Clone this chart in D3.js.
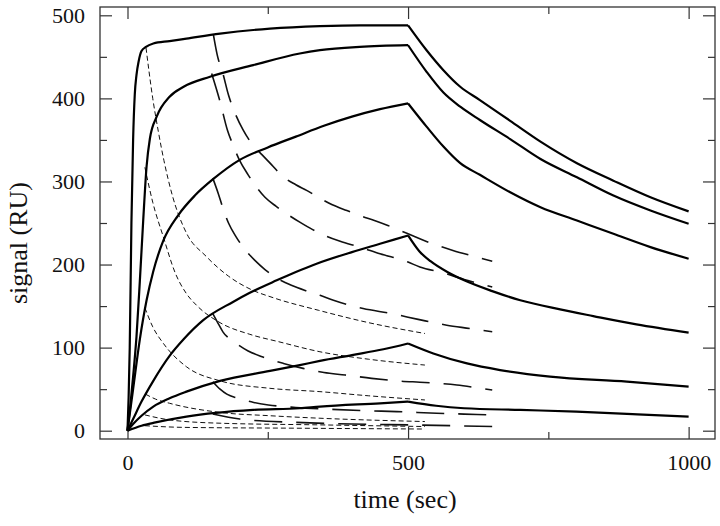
<!DOCTYPE html>
<html>
<head>
<meta charset="utf-8">
<script src="https://cdn.jsdelivr.net/npm/d3@7"></script>
<style>
body { margin: 0; background: #fff; }
svg text { font-family: "Liberation Serif", "Times New Roman", serif; fill: #111; }
</style>
</head>
<body>
<div id="chart"></div>
<script>
// solid sensorgrams: association (0-500 s) and dissociation (500-1000 s), [time, RU]
const solid1Assoc = [[0,0],[2,40],[4,100],[7,250],[10,350],[13,405],[16,428],[20,445],[25,457],[33,462],[46,466],[75,469],[105,472],[165,478],[254,484],[343,487],[414,488],[500,488]];
const solid1Dissoc = [[500,488],[533,458],[563,434],[593,414],[628,398],[682,373],[736,348],[801,322],[866,301],[932,281],[1000,264]];
const solid2Assoc = [[0,0],[5,30],[10,65],[16,113],[22,180],[28,253],[34,318],[40,352],[52,378],[75,402],[100,414],[147,426],[224,440],[307,454],[343,458],[414,462],[500,464]];
const solid2Dissoc = [[500,464],[533,432],[563,407],[593,390],[628,374],[682,351],[736,327],[801,305],[866,283],[932,265],[1000,249]];
const solid3Assoc = [[0,0],[10,50],[22,110],[34,157],[46,192],[64,229],[90,259],[120,283],[153,303],[200,326],[250,341],[300,354],[350,367],[400,378],[450,387],[500,394]];
const solid3Dissoc = [[500,394],[533,366],[563,342],[593,322],[628,308],[682,287],[736,269],[801,253],[866,237],[932,221],[1000,207]];
const solid4Assoc = [[0,0],[10,14],[25,35],[46,60],[75,90],[100,110],[135,133],[188,155],[218,166],[266,181],[300,191],[337,201],[400,215],[450,225],[500,235]];
const solid4Dissoc = [[500,235],[520,216],[540,204],[570,191],[600,181],[650,168],[700,157],[771,146],[830,138],[907,128],[1000,118]];
const solid5Assoc = [[0,0],[10,8],[25,18],[46,29],[75,39],[105,47],[165,60],[254,72],[307,79],[343,84],[400,91],[456,98],[500,105]];
const solid5Dissoc = [[500,105],[545,93],[605,81],[664,73],[753,65],[890,59],[1000,53]];
const solid6Assoc = [[0,0],[25,6],[50,10],[105,17],[224,25],[307,27],[343,29],[450,33],[500,35]];
const solid6Dissoc = [[500,35],[550,30],[600,27],[700,25],[800,23],[900,20],[1000,17]];

// short-dashed decays starting near t = 30 s
const shortDash1 = [[33,461],[45,400],[55,360],[65,325],[80,283],[105,238],[140,210],[180,186],[220,170],[260,160],[340,145],[430,130],[530,117]];
const shortDash2 = [[31,317],[45,275],[64,233],[85,190],[105,165],[123,151],[165,130],[218,116],[270,107],[343,95],[430,86],[530,79]];
const shortDash3 = [[31,148],[45,125],[64,105],[105,77],[165,60],[254,51],[343,47],[430,42],[530,37]];
const shortDash4 = [[32,44],[50,38],[75,33],[165,22],[254,18],[343,15],[530,11]];
const shortDash5 = [[31,19],[75,13],[165,9],[343,7],[530,5]];
const shortDash6 = [[31,6],[100,4],[300,3],[530,2]];

// long-dashed decays starting near t = 150 s
const longDash1 = [[153,477],[160,452],[170,430],[180,404],[190,385],[206,362],[221,346],[240,332],[257,320],[275,307],[300,296],[320,289],[340,281],[365,272],[391,265],[414,259],[440,253],[464,247],[500,237],[540,226],[580,217],[611,211],[650,204]];
const longDash2 = [[150,430],[165,396],[178,362],[188,344],[200,325],[215,308],[227,296],[245,281],[265,270],[286,260],[307,251],[330,242],[355,234],[379,228],[414,221],[450,213],[500,203],[521,197],[563,190],[600,182],[650,173]];
const longDash3 = [[152,304],[162,285],[170,268],[180,250],[193,234],[206,221],[227,205],[245,194],[263,185],[292,175],[320,168],[343,163],[367,157],[420,147],[470,141],[518,134],[569,127],[610,123],[650,119]];
const longDash4 = [[152,141],[160,131],[170,119],[192,106],[215,96],[240,89],[278,81],[313,75],[350,70],[388,67],[435,63],[480,60],[530,58],[587,55],[620,52],[650,49]];
const longDash5 = [[152,59],[165,50],[177,44],[197,39],[225,34],[251,31],[300,28],[353,26],[426,24],[480,23],[551,21],[600,20],[650,19]];
const longDash6 = [[152,20],[200,14],[300,10],[400,8],[500,7],[650,5]];

const xMajor = [0, 500, 1000];
const xMinor = [250, 750];
const yMajor = [0, 100, 200, 300, 400, 500];
const yMinor = [50, 150, 250, 350, 450];

const W = 720, H = 526;
const margin = {top: 7, right: 5, bottom: 87, left: 100};
const width = W - margin.left - margin.right;
const height = H - margin.top - margin.bottom;

const svg = d3.select("#chart").append("svg")
    .attr("width", W)
    .attr("height", H);
const g = svg.append("g")
    .attr("transform", "translate(" + margin.left + "," + margin.top + ")");

const x = d3.scaleLinear().domain([-49, 1047]).range([0, width]);
const y = d3.scaleLinear().domain([-10, 510]).range([height, 0]);

const line = d3.line()
    .x(d => x(d[0]))
    .y(d => y(d[1]))
    .curve(d3.curveMonotoneX);

// axes: inward ticks on all four sides
function styleAxis(sel) {
    sel.select(".domain").remove();
    sel.selectAll(".tick line").attr("stroke", "#333").attr("stroke-width", 1.2);
    sel.attr("font-size", 22).attr("font-family", null);
}
const fmt = d3.format("d");
g.append("g").call(d3.axisLeft(y).tickValues(yMajor).tickSize(-12).tickPadding(15).tickFormat(fmt)).call(styleAxis);
g.append("g").call(d3.axisLeft(y).tickValues(yMinor).tickSize(-7).tickFormat("")).call(styleAxis);
g.append("g").attr("transform", "translate(" + width + ",0)")
    .call(d3.axisRight(y).tickValues(yMajor).tickSize(-12).tickFormat("")).call(styleAxis);
g.append("g").attr("transform", "translate(" + width + ",0)")
    .call(d3.axisRight(y).tickValues(yMinor).tickSize(-7).tickFormat("")).call(styleAxis);
g.append("g").attr("transform", "translate(0," + height + ")")
    .call(d3.axisBottom(x).tickValues(xMajor).tickSize(-12).tickPadding(15).tickFormat(fmt)).call(styleAxis);
g.append("g").attr("transform", "translate(0," + height + ")")
    .call(d3.axisBottom(x).tickValues(xMinor).tickSize(-7).tickFormat("")).call(styleAxis);
g.append("g").call(d3.axisTop(x).tickValues(xMajor).tickSize(-12).tickFormat("")).call(styleAxis);
g.append("g").call(d3.axisTop(x).tickValues(xMinor).tickSize(-7).tickFormat("")).call(styleAxis);

g.selectAll(".tick text").attr("fill", "#111");

// frame
g.append("rect")
    .attr("width", width)
    .attr("height", height)
    .attr("fill", "none")
    .attr("stroke", "#333")
    .attr("stroke-width", 1.3);

// short dashed
[shortDash1, shortDash2, shortDash3, shortDash4, shortDash5, shortDash6].forEach(s => {
    g.append("path").datum(s)
        .attr("d", line)
        .attr("fill", "none")
        .attr("stroke", "#111")
        .attr("stroke-width", 1)
        .attr("stroke-dasharray", "5,3");
});

// long dashed
[longDash1, longDash2, longDash3, longDash4, longDash5, longDash6].forEach(s => {
    g.append("path").datum(s)
        .attr("d", line)
        .attr("fill", "none")
        .attr("stroke", "#111")
        .attr("stroke-width", 1.6)
        .attr("stroke-dasharray", "28,14");
});

// solid curves
[solid1Assoc, solid1Dissoc, solid2Assoc, solid2Dissoc, solid3Assoc, solid3Dissoc,
 solid4Assoc, solid4Dissoc, solid5Assoc, solid5Dissoc, solid6Assoc, solid6Dissoc].forEach(s => {
    g.append("path").datum(s)
        .attr("d", line)
        .attr("fill", "none")
        .attr("stroke", "#000")
        .attr("stroke-width", 2.2)
        .attr("stroke-linejoin", "round");
});

// axis titles
svg.append("text")
    .attr("x", 405)
    .attr("y", 508)
    .attr("text-anchor", "middle")
    .attr("font-size", 26)
    .text("time (sec)");

svg.append("text")
    .attr("transform", "translate(27,243) rotate(-90)")
    .attr("text-anchor", "middle")
    .attr("font-size", 26)
    .text("signal (RU)");
</script>
</body>
</html>
